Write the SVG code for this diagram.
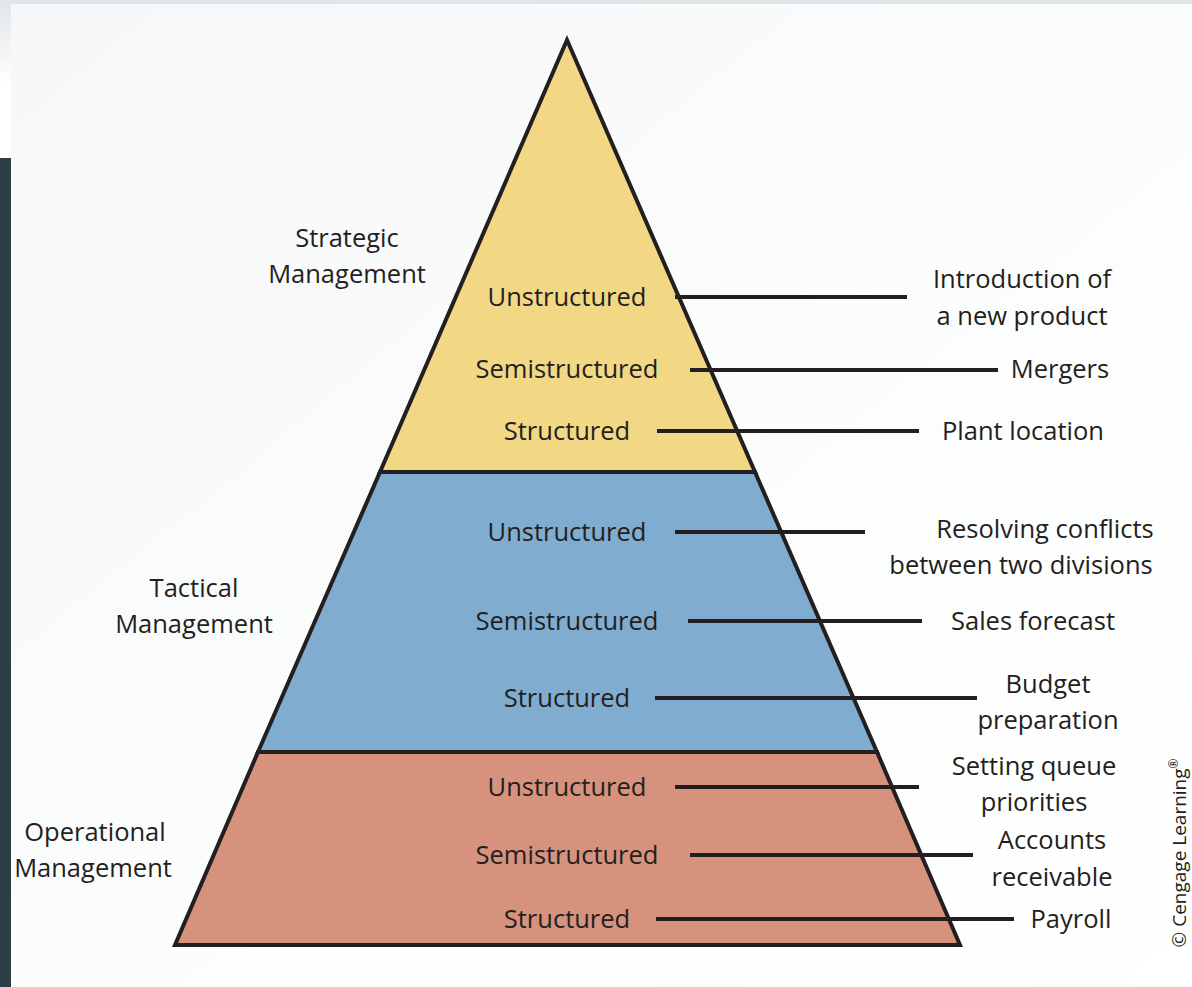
<svg xmlns="http://www.w3.org/2000/svg" width="1192" height="987" viewBox="0 0 1192 987">
<defs>
<linearGradient id="bg" x1="0" y1="0" x2="1" y2="1">
<stop offset="0" stop-color="#f5f7f9"/>
<stop offset="0.5" stop-color="#fbfcfc"/>
<stop offset="1" stop-color="#ffffff"/>
</linearGradient>
<linearGradient id="lstrip" x1="0" y1="0" x2="0" y2="1">
<stop offset="0" stop-color="#e2e6e8"/>
<stop offset="1" stop-color="#ffffff"/>
</linearGradient>
</defs>
<style>
text{font-family:"Open Sans","Noto Sans",sans-serif;font-size:25.5px;fill:#231f20;text-anchor:middle}
.tier{stroke:#231f20;stroke-width:4;stroke-linejoin:miter}
.conn line{stroke:#231f20;stroke-width:4}
</style>
<rect x="0" y="0" width="1192" height="987" fill="url(#bg)"/>
<rect x="0" y="0" width="1192" height="4" fill="#e1e5e7"/>
<rect x="0" y="4" width="11" height="80" fill="url(#lstrip)"/>
<rect x="0" y="84" width="11" height="74" fill="#ffffff"/>
<rect x="0" y="158" width="11" height="829" fill="#2c3e46"/>

<g id="tier-strategic">
<polygon class="tier" points="567,40 755,472 380,472" fill="#f2d785"/>
</g>
<g id="tier-tactical">
<polygon class="tier" points="380,472 755,472 877,752 258,752" fill="#80accf"/>
</g>
<g id="tier-operational">
<polygon class="tier" points="258,752 877,752 960,945 175,945" fill="#d6927d"/>
</g>

<g id="connectors" class="conn">
<line x1="675" y1="297" x2="907" y2="297"/>
<line x1="690" y1="370" x2="998" y2="370"/>
<line x1="657" y1="431" x2="919" y2="431"/>
<line x1="675" y1="532" x2="865" y2="532"/>
<line x1="688" y1="621" x2="922" y2="621"/>
<line x1="655" y1="698" x2="977" y2="698"/>
<line x1="675" y1="787" x2="919" y2="787"/>
<line x1="690" y1="855" x2="973" y2="855"/>
<line x1="656" y1="919" x2="1014" y2="919"/>
</g>

<g id="label-strategic"><text x="347" y="247">Strategic</text><text x="347" y="283">Management</text></g>
<g id="label-tactical"><text x="194" y="597">Tactical</text><text x="194" y="633">Management</text></g>
<g id="label-operational"><text x="95" y="841">Operational</text><text x="93" y="877">Management</text></g>

<g id="s-unstructured"><text x="567" y="306">Unstructured</text></g>
<g id="s-semistructured"><text x="567" y="378">Semistructured</text></g>
<g id="s-structured"><text x="567" y="440">Structured</text></g>
<g id="t-unstructured"><text x="567" y="541">Unstructured</text></g>
<g id="t-semistructured"><text x="567" y="630">Semistructured</text></g>
<g id="t-structured"><text x="567" y="707">Structured</text></g>
<g id="o-unstructured"><text x="567" y="796">Unstructured</text></g>
<g id="o-semistructured"><text x="567" y="864">Semistructured</text></g>
<g id="o-structured"><text x="567" y="928">Structured</text></g>

<g id="ex-new-product"><text x="1022" y="288">Introduction of</text><text x="1022" y="325">a new product</text></g>
<g id="ex-mergers"><text x="1060" y="378">Mergers</text></g>
<g id="ex-plant"><text x="1023" y="440">Plant location</text></g>
<g id="ex-conflicts"><text x="1045" y="538">Resolving conflicts</text><text x="1021" y="574">between two divisions</text></g>
<g id="ex-sales"><text x="1033" y="630">Sales forecast</text></g>
<g id="ex-budget"><text x="1048" y="693">Budget</text><text x="1048" y="729">preparation</text></g>
<g id="ex-queue"><text x="1034" y="775">Setting queue</text><text x="1034" y="811">priorities</text></g>
<g id="ex-accounts"><text x="1052" y="849">Accounts</text><text x="1052" y="886">receivable</text></g>
<g id="ex-payroll"><text x="1071" y="928">Payroll</text></g>

<text x="0" y="0" transform="translate(1186,853) rotate(-90)" style="font-size:19px">© Cengage Learning<tspan style="font-size:12px" baseline-shift="super">®</tspan></text>
</svg>
